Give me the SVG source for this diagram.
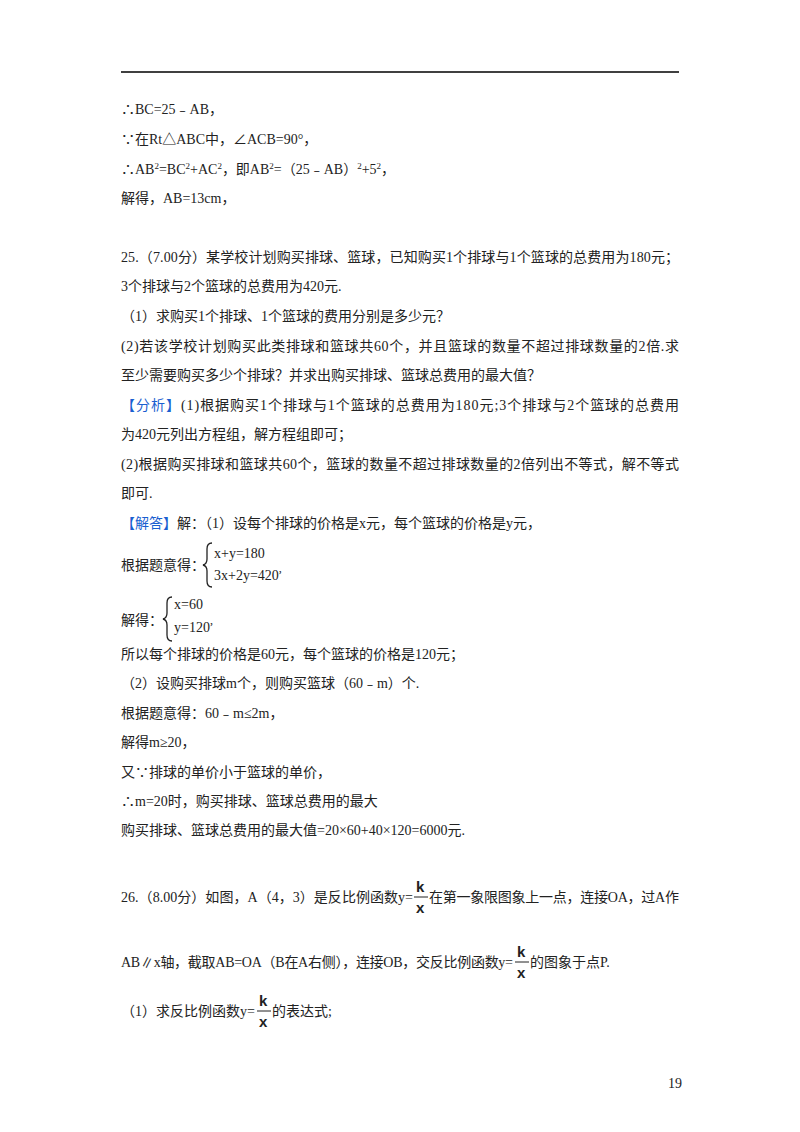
<svg xmlns="http://www.w3.org/2000/svg" width="800" height="1132" viewBox="0 0 800 1132">
<style>
text{font-family:"Liberation Serif","Noto Sans CJK SC",serif;font-size:14px;fill:#222}
.b{fill:#1a5fd0}
.f{font-family:"Liberation Sans","Noto Sans CJK SC",sans-serif;font-weight:bold;font-size:15px}
.br{fill:none;stroke:#222;stroke-width:1.3}
</style>
<rect width="800" height="1132" fill="#fff"/>
<line x1="121" y1="72" x2="679" y2="72" stroke="#000" stroke-width="1.5"/>
<g id="text">
<text x="121" y="114">∴BC=25﹣AB，</text>
<text x="121" y="144">∵在Rt△ABC中，∠ACB=90°，</text>
<text x="121" y="174">∴AB<tspan dy="-5" font-size="9">2</tspan><tspan dy="5">=BC</tspan><tspan dy="-5" font-size="9">2</tspan><tspan dy="5">+AC</tspan><tspan dy="-5" font-size="9">2</tspan><tspan dy="5">，即AB</tspan><tspan dy="-5" font-size="9">2</tspan><tspan dy="5">=（25﹣AB）</tspan><tspan dy="-5" font-size="9">2</tspan><tspan dy="5">+5</tspan><tspan dy="-5" font-size="9">2</tspan><tspan dy="5">，</tspan></text>
<text x="121" y="203">解得，AB=13cm，</text>
<text x="121" y="262" textLength="558">25.（7.00分）某学校计划购买排球、篮球，已知购买1个排球与1个篮球的总费用为180元；</text>
<text x="121" y="291">3个排球与2个篮球的总费用为420元.</text>
<text x="121" y="321">（1）求购买1个排球、1个篮球的费用分别是多少元？</text>
<text x="121" y="351" textLength="558">(2)若该学校计划购买此类排球和篮球共60个，并且篮球的数量不超过排球数量的2倍.求</text>
<text x="121" y="380">至少需要购买多少个排球？并求出购买排球、篮球总费用的最大值？</text>
<text x="121" y="410" textLength="558"><tspan class="b">【分析】</tspan>(1)根据购买1个排球与1个篮球的总费用为180元;3个排球与2个篮球的总费用</text>
<text x="121" y="439">为420元列出方程组，解方程组即可；</text>
<text x="121" y="469" textLength="558">(2)根据购买排球和篮球共60个，篮球的数量不超过排球数量的2倍列出不等式，解不等式</text>
<text x="121" y="498">即可.</text>
<text x="121" y="528"><tspan class="b">【解答】</tspan>解：（1）设每个排球的价格是x元，每个篮球的价格是y元，</text>
<text x="121" y="570">根据题意得：</text>
<path class="br" d="M212,543 q-5,0 -5,6 v10 q0,5 -4,6 q4,1 4,6 v10 q0,6 5,6"/>
<text x="214" y="558" font-size="15">x+y=180</text>
<text x="214" y="580" font-size="15">3x+2y=420<tspan font-size="12" dy="-8">,</tspan></text>
<text x="121" y="625">解得：</text>
<path class="br" d="M172,597 q-5,0 -5,6 v10 q0,5 -4,6 q4,1 4,6 v10 q0,6 5,6"/>
<text x="174" y="609" font-size="15">x=60</text>
<text x="174" y="632" font-size="15">y=120<tspan font-size="12" dy="-8">,</tspan></text>
<text x="121" y="659">所以每个排球的价格是60元，每个篮球的价格是120元；</text>
<text x="121" y="688">（2）设购买排球m个，则购买篮球（60﹣m）个.</text>
<text x="121" y="718">根据题意得：60﹣m≤2m，</text>
<text x="121" y="747">解得m≥20，</text>
<text x="121" y="777">又∵排球的单价小于篮球的单价，</text>
<text x="121" y="806">∴m=20时，购买排球、篮球总费用的最大</text>
<text x="121" y="835">购买排球、篮球总费用的最大值=20×60+40×120=6000元.</text>
<text x="121" y="902" textLength="292">26.（8.00分）如图，A（4，3）是反比例函数y=</text>
<text class="f" x="416" y="892">k</text>
<line x1="414" y1="897" x2="428" y2="897" stroke="#222"/>
<text class="f" x="416" y="913">x</text>
<text x="429" y="902" textLength="250">在第一象限图象上一点，连接OA，过A作</text>
<text x="121" y="967" textLength="392">AB∥x轴，截取AB=OA（B在A右侧），连接OB，交反比例函数y=</text>
<text class="f" x="517" y="957">k</text>
<line x1="515" y1="962" x2="529" y2="962" stroke="#222"/>
<text class="f" x="517" y="978">x</text>
<text x="530" y="967">的图象于点P.</text>
<text x="121" y="1016">（1）求反比例函数y=</text>
<text class="f" x="259" y="1006">k</text>
<line x1="257" y1="1011" x2="271" y2="1011" stroke="#222"/>
<text class="f" x="259" y="1027">x</text>
<text x="272" y="1016">的表达式;</text>
<text x="668" y="1088" font-size="12">19</text>
</g>
</svg>
